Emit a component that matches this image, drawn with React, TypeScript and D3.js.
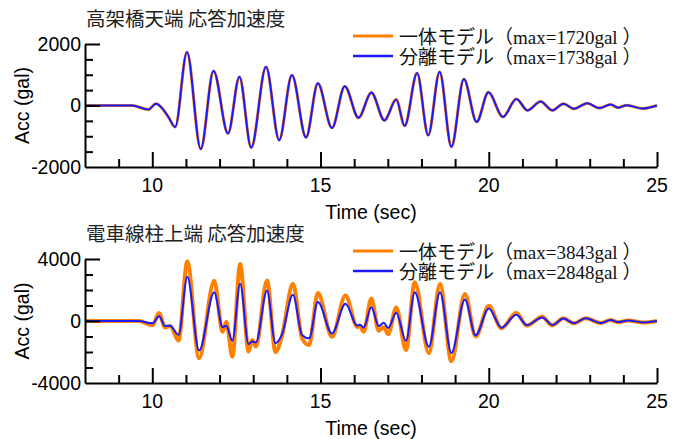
import React, { useEffect, useRef } from "react";
import * as d3 from "d3";

// time of each turning point (sec), upper panel
const timeTop = [
  8, 9.4, 9.88, 10.11, 10.31, 10.48, 10.68, 11.03, 11.44, 11.82, 12.25, 12.59,
  12.94, 13.38, 13.77, 14.15, 14.57, 14.92, 15.34, 15.72, 16.13, 16.51, 16.9,
  17.25, 17.5, 17.87, 18.2, 18.54, 18.89, 19.26, 19.64, 19.99, 20.42, 20.82,
  21.15, 21.54, 21.89, 22.22, 22.53, 22.93, 23.28, 23.62, 23.85, 24.1, 24.57, 25,
];
const topIntegrated = [
  0, 0, -130, 55, -110, -375, -700, 1720, -1410, 1125, -905, 930, -1365, 1250,
  -1120, 985, -1035, 715, -725, 620, -400, 418, -480, 195, -660, 1050, -965,
  1090, -1340, 855, -530, 428, -372, 213, -158, 128, -158, 55, -104, 74, -84, 30,
  -70, 10, -98, 0,
];
const topSeparated = [
  0, 0, -130, 55, -110, -375, -700, 1738, -1420, 1130, -910, 935, -1375, 1260,
  -1130, 990, -1040, 720, -730, 625, -400, 420, -485, 195, -665, 1055, -970,
  1095, -1345, 860, -535, 430, -375, 215, -160, 130, -160, 55, -105, 75, -85, 30,
  -70, 10, -100, 0,
];

// lower panel
const timeBottom = [
  8, 9.6, 10.01, 10.2, 10.38, 10.53, 10.78, 11.04, 11.39, 11.84, 12.09, 12.2,
  12.38, 12.61, 12.86, 12.97, 13.08, 13.41, 13.66, 13.85, 14.18, 14.45, 14.66,
  14.92, 15.34, 15.74, 16.09, 16.17, 16.28, 16.51, 16.73, 16.88, 17.01, 17.25,
  17.54, 17.8, 18.22, 18.55, 18.89, 19.29, 19.61, 20.0, 20.38, 20.82, 21.13,
  21.59, 21.89, 22.22, 22.53, 22.88, 23.33, 23.62, 23.85, 24.14, 24.59, 25,
];
const bottomIntegrated = [
  0, 0, -270, 520, -420, -320, -1270, 3843, -2400, 2600, -700, -50, -2300, 3680,
  -1960, -1230, -1650, 2620, -2000, -1000, 2400, -1100, -1550, 1800, -1020, 1650,
  -380, -300, -700, 1450, -630, -400, -850, 870, -1870, 2500, -2080, 2390, -2600,
  1750, -1000, 980, -470, 540, -300, 270, -290, 170, -150, 170, -130, 60, -80,
  40, -100, 0,
];
const bottomSeparated = [
  0, 0, -150, 300, -320, -300, -900, 2848, -1910, 1860, -400, -300, -1270, 2400,
  -1480, -1330, -1380, 1970, -1430, -900, 1700, -900, -1120, 1220, -800, 1120,
  -300, -240, -420, 880, -330, -120, -450, 540, -1280, 1860, -1660, 1860, -2070,
  1390, -920, 800, -430, 400, -260, 230, -250, 160, -140, 170, -130, 60, -70, 40,
  -90, 0,
];

const seriesNames = ["一体モデル", "分離モデル"];
const topMax = ["1720", "1738"];
const bottomMax = ["3843", "2848"];
const xTickLabels = ["10", "15", "20", "25"];
const topYLabels = ["2000", "0", "-2000"];
const bottomYLabels = ["4000", "0", "-4000"];

const ORANGE = "#ff8000";
const BLUE = "#1a1aff";
const sans = "'Liberation Sans', Arial, sans-serif";
const mixed = "'Liberation Serif', 'Noto Sans CJK JP', serif";

const panels = [
  {
    title: "高架橋天端 応答加速度",
    time: timeTop,
    a: topIntegrated,
    b: topSeparated,
    maxes: topMax,
    yLabels: topYLabels,
    yMax: 2000,
    yStep: 500,
    top: 44,
    bottom: 167,
    orangeW: 3,
    blueW: 2,
  },
  {
    title: "電車線柱上端 応答加速度",
    time: timeBottom,
    a: bottomIntegrated,
    b: bottomSeparated,
    maxes: bottomMax,
    yLabels: bottomYLabels,
    yMax: 4000,
    yStep: 1000,
    top: 259,
    bottom: 383,
    orangeW: 4,
    blueW: 2,
  },
];

const left = 85;
const right = 657;

const App = () => {
  const svgRef = useRef(null);

  useEffect(() => {
    const svg = d3.select(svgRef.current);
    svg.selectAll("*").remove();

    const x = d3.scaleLinear().domain([8, 25]).range([left, right]);

    panels.forEach((p) => {
      const y = d3.scaleLinear().domain([-p.yMax, p.yMax]).range([p.bottom, p.top]);
      const g = svg.append("g");

      const line = (vals) =>
        d3
          .line()
          .x((d, i) => x(p.time[i]))
          .y((d) => y(d))
          .curve(d3.curveMonotoneX)(vals);

      g.append("path")
        .attr("d", line(p.a))
        .attr("fill", "none")
        .attr("stroke", ORANGE)
        .attr("stroke-width", p.orangeW)
        .attr("stroke-linejoin", "round");
      g.append("path")
        .attr("d", line(p.b))
        .attr("fill", "none")
        .attr("stroke", BLUE)
        .attr("stroke-width", p.blueW)
        .attr("stroke-linejoin", "round");

      // x axis, ticks pointing inward
      const xAxis = g
        .append("g")
        .attr("transform", `translate(0,${p.bottom})`)
        .call(
          d3
            .axisBottom(x)
            .tickValues(d3.range(9, 26))
            .tickSizeInner(-8)
            .tickSizeOuter(0)
            .tickFormat(() => "")
        );
      xAxis.selectAll(".tick line").attr("y2", (d) => (d % 5 === 0 ? -15 : -8));

      const yAxis = g
        .append("g")
        .attr("transform", `translate(${left},0)`)
        .call(
          d3
            .axisLeft(y)
            .tickValues(d3.range(-p.yMax + p.yStep, p.yMax + 1, p.yStep))
            .tickSizeInner(-8)
            .tickSizeOuter(0)
            .tickFormat(() => "")
        );
      yAxis
        .selectAll(".tick line")
        .attr("x2", (d) => (d === 0 || d === p.yMax ? 15 : 8));

      g.selectAll(".domain, .tick line")
        .attr("stroke", "#000")
        .attr("stroke-width", 2);

      // tick labels
      g.selectAll(".xl")
        .data(xTickLabels)
        .join("text")
        .attr("x", (d) => x(+d))
        .attr("y", p.bottom + 25)
        .attr("text-anchor", "middle")
        .attr("font-family", sans)
        .attr("font-size", 19.5)
        .text((d) => d);

      g.selectAll(".yl")
        .data(p.yLabels)
        .join("text")
        .attr("x", left - 4)
        .attr("y", (d) => y(+d))
        .attr("dy", "0.35em")
        .attr("text-anchor", "end")
        .attr("font-family", sans)
        .attr("font-size", 19.5)
        .text((d) => d);

      g.append("text")
        .attr("x", (left + right) / 2)
        .attr("y", p.bottom + 52)
        .attr("text-anchor", "middle")
        .attr("font-family", sans)
        .attr("font-size", 19.5)
        .text("Time (sec)");

      g.append("text")
        .attr("transform", `translate(29,${(p.top + p.bottom) / 2}) rotate(-90)`)
        .attr("text-anchor", "middle")
        .attr("font-family", sans)
        .attr("font-size", 19.5)
        .text("Acc (gal)");

      g.append("text")
        .attr("x", left + 1)
        .attr("y", p.top - 18)
        .attr("font-family", "'Noto Sans CJK JP', sans-serif")
        .attr("font-size", 19.5)
        .attr("fill", "#222")
        .text(p.title);

      // legend
      [ORANGE, BLUE].forEach((c, i) => {
        const ly = p.top - 8 + i * 20;
        g.append("line")
          .attr("x1", 353)
          .attr("x2", 393)
          .attr("y1", ly)
          .attr("y2", ly)
          .attr("stroke", c)
          .attr("stroke-width", i === 0 ? 3 : 2.5);
        g.append("text")
          .attr("x", 399)
          .attr("y", ly + 1)
          .attr("dy", "0.35em")
          .attr("font-family", mixed)
          .attr("font-size", 19)
          .attr("fill", "#111")
          .text(`${seriesNames[i]}（max=${p.maxes[i]}gal ）`);
      });
    });
  }, []);

  return (
    <svg
      ref={svgRef}
      width={682}
      height={439}
      style={{ position: "absolute", left: 0, top: 0, background: "#fff" }}
    />
  );
};

export default App;
